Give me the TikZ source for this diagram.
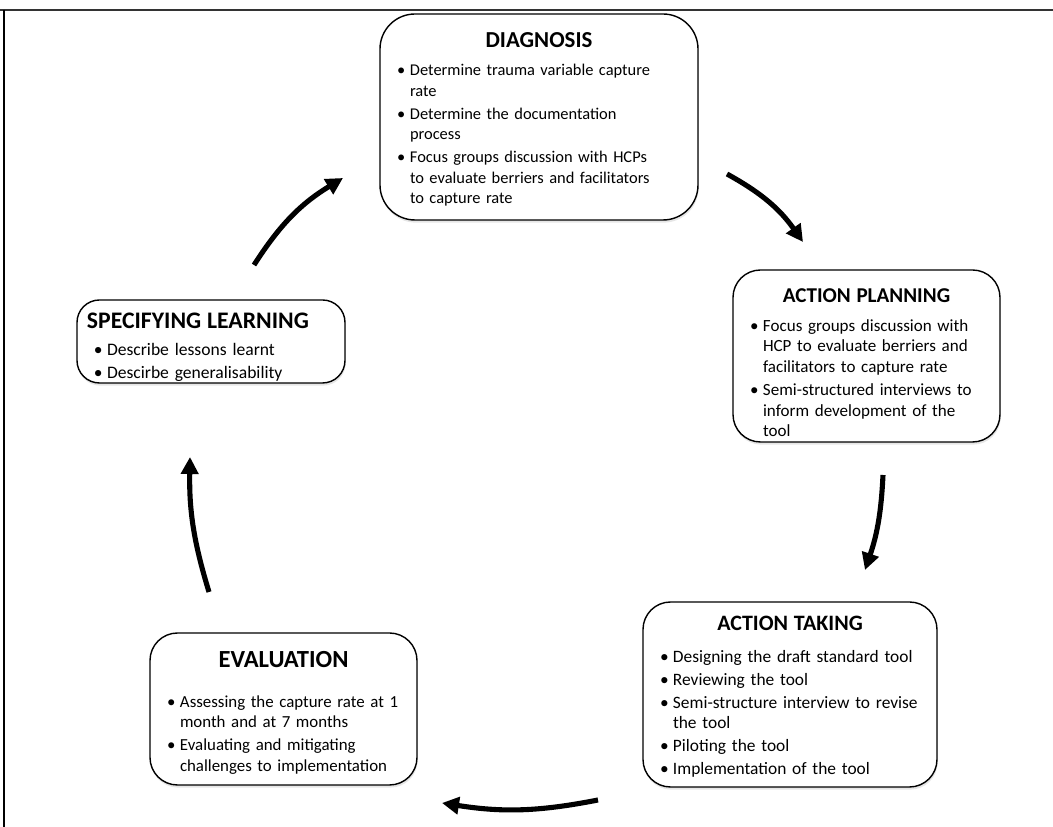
\documentclass[tikz,border=0pt]{standalone}
\usepackage{fontspec}
\setmainfont{Carlito}
\usetikzlibrary{arrows.meta,shadows}

\newlength{\bulind}
\setlength{\bulind}{7.4pt}
% size, strut height, gap after, text
\newcommand{\ttl}[4]{{\centering\fontsize{#1}{#1}\selectfont\bfseries\rule{0pt}{#2}#4\par}\vspace{#3}}
\newcommand{\lttl}[4]{{\noindent\fontsize{#1}{#1}\selectfont\bfseries\rule{0pt}{#2}#4\par}\vspace{#3}}
\newcommand{\itm}[1]{\par\vspace{1.4pt}\hangindent=\dimexpr\bulind+0.14cm\relax\hangafter=1\noindent\hskip0.14cm\hbox to\bulind{\textbullet\hfil}#1\par}

\begin{document}
\begin{tikzpicture}[
  box/.style={draw, line width=0.8pt, rounded corners=0.55cm, fill=white,
    drop shadow={opacity=0.2, shadow xshift=0.4pt, shadow yshift=-1.5pt},
    inner xsep=0.2cm, inner ysep=0pt, align=left,
    font=\fontsize{9.5}{11.7}\selectfont},
  cyc/.style={line width=2.9pt, -{Triangle[length=0.34cm, width=0.34cm]}}]
\hbadness=10000
\useasboundingbox (0,0) rectangle (21.06,16.54);

%cadre
\draw[line width=1.1pt, black!80] (0,16.34) -- (21.06,16.34);
\draw[line width=0.6pt] (0.08,16.34) -- (0.08,0);

%diagnosis
\node[box, rounded corners=0.7cm, text width=5.96cm, minimum height=4.12cm,
  font=\fontsize{9.35}{11.7}\selectfont] (diag) at (10.78,14.20) {%
  \ttl{13}{11.2pt}{3.2pt}{DIAGNOSIS}
  \itm{Determine trauma variable capture\newline rate}
  \itm{Determine the documentation\newline process}
  \itm{Focus groups discussion with HCPs\newline to evaluate berriers and facilitators\newline to capture rate}};

%action planning
\node[box, text width=4.94cm, minimum height=3.44cm,
  font=\fontsize{9.7}{11.7}\selectfont] (plan) at (17.33,9.42) {%
  \ttl{12}{15.7pt}{3.2pt}{ACTION PLANNING}
  \itm{Focus groups discussion with\newline HCP to evaluate berriers and\newline facilitators to capture rate}
  \itm{Semi-structured interviews to\newline inform development of the\newline tool}};

%action taking
\node[box, text width=5.48cm, minimum height=3.7cm,
  font=\fontsize{9.9}{11.7}\selectfont] (take) at (15.80,2.65) {%
  \ttl{12.5}{11pt}{4.8pt}{ACTION TAKING}
  \itm{Designing the draft standard tool}
  \itm{Reviewing the tool}
  \itm{Semi-structure interview to revise\newline the tool}
  \itm{Piloting the tool}
  \itm{Implementation of the tool}};

%evaluation
\node[box, text width=4.94cm, minimum height=3.04cm,
  font=\fontsize{9.6}{11.7}\selectfont] (eval) at (5.67,2.36) {%
  \ttl{14}{13.5pt}{9.5pt}{EVALUATION}
  \itm{Assessing the capture rate at~1\newline month and at 7 months}
  \itm{Evaluating and mitigating\newline challenges to implementation}};

%specifying learning
\node[box, rounded corners=0.45cm, text width=4.96cm, minimum height=1.66cm,
  font=\fontsize{10}{11.7}\selectfont] (spec) at (4.22,9.71) {%
  \lttl{13.5}{15.5pt}{2pt}{SPECIFYING LEARNING}
  \itm{Describe lessons learnt}
  \itm{Descirbe generalisability}};

%fleches
\coordinate (a1s) at (5.08,11.24);
\coordinate (a1e) at (6.86,12.98);
\coordinate (a2s) at (14.54,13.06);
\coordinate (a2e) at (16.06,11.70);
\coordinate (a3s) at (17.66,7.04);
\coordinate (a3e) at (17.30,5.14);
\coordinate (a4s) at (11.96,0.54);
\coordinate (a4e) at (8.84,0.48);
\coordinate (a5s) at (4.18,4.70);
\coordinate (a5e) at (3.80,7.40);
\draw[cyc] (a1s) to[bend left=13] (a1e);
\draw[cyc] (a2s) to[bend left=13] (a2e);
\draw[cyc] (a3s) to[bend left=8] (a3e);
\draw[cyc] (a4s) to[bend left=10] (a4e);
\draw[cyc] (a5s) to[bend left=9] (a5e);

\end{tikzpicture}
\end{document}
